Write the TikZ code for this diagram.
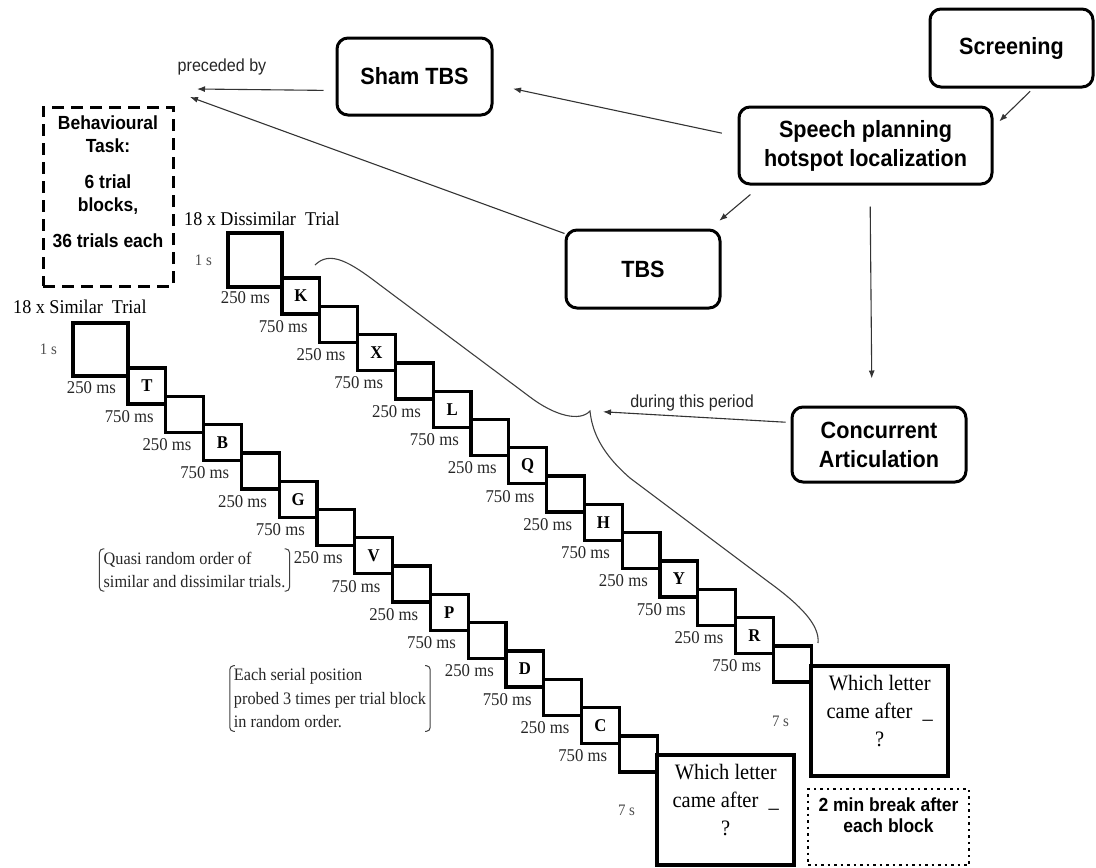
\documentclass[tikz,border=0pt]{standalone}
\usepackage{fontspec}
\setmainfont{Liberation Serif}[FakeStretch=0.93]
\newfontfamily\arialfont{Liberation Sans}[FakeStretch=0.92]
\usetikzlibrary{arrows.meta,positioning,calc}

\begin{document}
\begin{tikzpicture}[x=1pt, y=-1pt,
    stagebox/.style={draw, line width=3pt, rounded corners=11pt, align=center,
      font=\arialfont\bfseries\fontsize{23.5}{29}\selectfont},
    taskbox/.style={draw, line width=3pt, dash pattern=on 12pt off 7pt},
    breakbox/.style={draw, line width=2.5pt, dash pattern=on 2.5pt off 4pt},
    tasktext/.style={align=center, inner sep=0pt, font=\arialfont\bfseries\fontsize{19}{23}\selectfont},
    trialbox/.style={draw, line width=3.3pt, minimum width=37.8pt, minimum height=36pt,
      inner sep=0pt, outer sep=0pt, anchor=north west, font=\bfseries\fontsize{18}{18}\selectfont},
    bigbox/.style={trialbox, anchor=south east},
    qbox/.style={draw, line width=4pt, minimum width=137pt, minimum height=110pt,
      outer sep=0pt, anchor=north west},
    qtext/.style={align=center, inner sep=0pt, font=\fontsize{22}{28}\selectfont},
    durlabel/.style={inner sep=0pt, text=black!85, font=\fontsize{18}{18}\selectfont},
    waitlbl/.style={inner sep=0pt, text=black!70, font=\fontsize{16}{16}\selectfont},
    titlelbl/.style={inner sep=0pt, font=\fontsize{19.5}{20}\selectfont},
    notetext/.style={align=left, inner xsep=4pt, inner ysep=3pt, text=black!85,
      font=\fontsize{17.5}{23.5}\selectfont},
    bracket/.style={line width=1pt, draw=black!75, rounded corners=4pt},
    arrowtext/.style={inner sep=0pt, text=black!85, font=\arialfont\fontsize{17.5}{20}\selectfont},
    arr/.style={line width=1.1pt, draw=black!80, -{Latex[length=8pt,width=6pt]}},
    brace/.style={line width=1.1pt, draw=black!75}
  ]
  \useasboundingbox (0,0) rectangle (1096,868);

  % Procedure boxes
  \node[stagebox, minimum width=163pt, minimum height=78pt] (screen) at (1011.5,48) {Screening};
  \node[stagebox, minimum width=253pt, minimum height=77pt] (speech) at (865.5,145.5) {Speech planning\\hotspot localization};
  \node[stagebox, minimum width=155pt, minimum height=77pt] (sham) at (414.5,76.5) {Sham TBS};
  \node[stagebox, minimum width=154pt, minimum height=78pt] (tbs) at (643,269) {TBS};
  \node[stagebox, minimum width=174pt, minimum height=75pt] (conc) at (879,444.5) {Concurrent\\Articulation};

  % Behavioural task box
  \node[taskbox, minimum width=130pt, minimum height=179pt] (task) at (108,196.5) {};
  \node[tasktext, below=10pt of task.north] (tasktxt) {Behavioural\\Task:\\[13pt]6 trial\\blocks,\\[13pt]36 trials each};

  % Free arrow ends
  \coordinate (prec1) at (197,89);
  \coordinate (prec2) at (190,97);
  \coordinate (cusp) at (590,411);

  \node[arrowtext] (prectxt) at (222,67) {preceded by};
  \node[arrowtext] (duringtxt) at (692,403) {during this period};

  % Arrows between procedure boxes
  \draw[arr, shorten <=4pt, shorten >=8pt] ([xshift=21.5pt]screen.south) -- ([yshift=18.5pt]speech.east);
  \draw[arr, shorten <=16pt, shorten >=20pt] ([yshift=9pt]speech.west) -- ([yshift=-8pt]sham.east);
  \draw[arr, shorten <=14pt, shorten >=12pt] ([xshift=23.6pt]speech.south west) -- ([xshift=-11.4pt]tbs.north east);
  \draw[arr, shorten <=21pt, shorten >=27pt] ([xshift=4.5pt]speech.south) -- ([xshift=-7pt]conc.north);
  \draw[arr, shorten <=12pt] ([yshift=-14pt]sham.west) -- (prec1);
  \draw[arr] ([yshift=-5pt]tbs.north west) -- (prec2);
  \draw[arr, shorten <=5pt, shorten >=13pt] ([yshift=22pt]conc.west) -- (cusp);

  % Similar trial staircase
  \node[titlelbl, anchor=west] (simtitle) at (13,307) {18 x Similar\ \ Trial};
  \foreach \ltr [count=\k from 0] in {T,B,G,V,P,D,C} {
    \node[trialbox] (sl\k) at ({128+2*\k*37.8},{368+2*\k*28.3}) {\ltr};
    \node[trialbox] (sb\k) at ({128+(2*\k+1)*37.8},{368+(2*\k+1)*28.3}) {};
    \node[durlabel, left=12pt of sl\k.west, yshift=-2pt] (slt\k) {250 ms};
    \node[durlabel, left=12pt of sb\k.west, yshift=-2pt] (sbt\k) {750 ms};
  }
  \node[bigbox, minimum width=55pt, minimum height=53pt] (simbig) at ([yshift=-8pt]sl0.north west) {};
  \node[waitlbl, left=16pt of simbig.west] (simone) {1 s};
  \node[qbox] (simq) at ([yshift=-19pt]sb6.north east) {};
  \node[qtext, below=9pt of simq.north] (simqtxt) {Which letter\\came after\ \ \_\\?};
  \node[waitlbl, left=22pt of simq.west] (simseven) {7 s};

  % Dissimilar trial staircase
  \node[titlelbl, anchor=west] (distitle) at (184,219) {18 x Dissimilar\ \ Trial};
  \foreach \ltr [count=\k from 0] in {K,X,L,Q,H,Y,R} {
    \node[trialbox] (dl\k) at ({282+2*\k*37.8},{278+2*\k*28.3}) {\ltr};
    \node[trialbox] (db\k) at ({282+(2*\k+1)*37.8},{278+(2*\k+1)*28.3}) {};
    \node[durlabel, left=12pt of dl\k.west, yshift=-2pt] (dlt\k) {250 ms};
    \node[durlabel, left=12pt of db\k.west, yshift=-2pt] (dbt\k) {750 ms};
  }
  \node[bigbox, minimum width=54pt, minimum height=54pt] (disbig) at ([yshift=-9pt]dl0.north west) {};
  \node[waitlbl, left=16pt of disbig.west] (disone) {1 s};
  \node[qbox] (disq) at ([yshift=-20pt]db6.north east) {};
  \node[qtext, below=9pt of disq.north] (disqtxt) {Which letter\\came after\ \ \_\\?};
  \node[waitlbl, left=22pt of disq.west] (disseven) {7 s};

  % Break box
  \node[breakbox, minimum width=161pt, minimum height=76pt] (brk) at (888.5,827) {};
  \node[tasktext, font=\arialfont\bfseries\fontsize{19}{21}\selectfont, below=10pt of brk.north] (brktxt) {2 min break after\\each block};

  % Curly brace over the dissimilar trial
  \draw[brace] (315,265) .. controls (330,250) and (350,262) .. (380,285) -- (530,397)
    .. controls (555,416) and (580,422) .. (cusp)
    .. controls (592,430) and (600,452) .. (630,478) -- (770,583)
    .. controls (800,605) and (820,625) .. (818,643);

  % Bracketed notes
  \node[notetext] (quasi) at (194.5,570) {Quasi random order of\\similar and dissimilar trials.};
  \draw[bracket] ([xshift=5pt]quasi.north west) -- (quasi.north west) -- (quasi.south west) -- ([xshift=5pt]quasi.south west);
  \draw[bracket] ([xshift=-5pt]quasi.north east) -- (quasi.north east) -- (quasi.south east) -- ([xshift=-5pt]quasi.south east);

  \node[notetext] (serial) at (330,698.5) {Each serial position\\probed 3 times per trial block\\in random order.};
  \draw[bracket] ([xshift=5pt]serial.north west) -- (serial.north west) -- (serial.south west) -- ([xshift=5pt]serial.south west);
  \draw[bracket] ([xshift=-5pt]serial.north east) -- (serial.north east) -- (serial.south east) -- ([xshift=-5pt]serial.south east);
\end{tikzpicture}
\end{document}
